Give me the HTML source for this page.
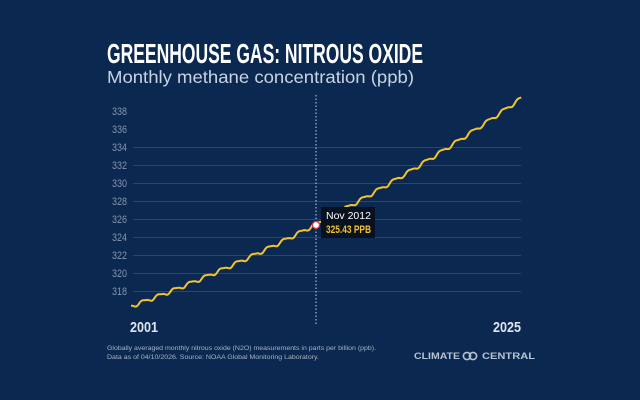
<!DOCTYPE html>
<html><head><meta charset="utf-8"><style>
html,body{margin:0;padding:0;background:#0b2850;}
svg{display:block}
</style></head><body>
<svg id="s" width="640" height="400" viewBox="0 0 640 400" xmlns="http://www.w3.org/2000/svg">
<rect width="640" height="400" fill="#0b2850"/>
<text x="107" y="63" fill="#ffffff" font-family="Liberation Sans, sans-serif" font-weight="bold" font-size="28" textLength="316" lengthAdjust="spacingAndGlyphs">GREENHOUSE GAS: NITROUS OXIDE</text>
<text x="107" y="83" fill="#c9d4e2" font-family="Liberation Sans, sans-serif" font-size="17.5" textLength="307" lengthAdjust="spacingAndGlyphs">Monthly methane concentration (ppb)</text>
<g id="grid" stroke="#264770" stroke-width="1"></g>
<g id="lab" fill="#8596ad" font-family="Liberation Sans, sans-serif" font-size="11"></g>
<line x1="316" y1="95" x2="316" y2="326" stroke="#c9d4e2" stroke-width="1" stroke-dasharray="1.5,2"/>
<path id="p" fill="none" stroke="#f2c230" stroke-width="2" stroke-linejoin="round"/>
<circle cx="316" cy="225" r="3.5" fill="#ffffff" stroke="#e23b3b" stroke-width="1.2"/>
<rect x="321" y="207" width="54" height="31" fill="#08111f"/>
<text x="326" y="219" fill="#ffffff" font-family="Liberation Sans, sans-serif" font-size="10.5">Nov 2012</text>
<text x="326" y="233" fill="#f2c230" font-family="Liberation Sans, sans-serif" font-weight="bold" font-size="11" textLength="45" lengthAdjust="spacingAndGlyphs">325.43 PPB</text>
<text x="130" y="332" fill="#dde4ee" font-family="Liberation Sans, sans-serif" font-weight="bold" font-size="15" textLength="28" lengthAdjust="spacingAndGlyphs">2001</text>
<text x="493" y="332" fill="#dde4ee" font-family="Liberation Sans, sans-serif" font-weight="bold" font-size="15" textLength="28" lengthAdjust="spacingAndGlyphs">2025</text>
<text x="107" y="350" fill="#a7b3c4" font-family="Liberation Sans, sans-serif" font-size="6.5" textLength="269" lengthAdjust="spacingAndGlyphs">Globally averaged monthly nitrous oxide (N2O) measurements in parts per billion (ppb).</text>
<text x="107" y="359" fill="#a7b3c4" font-family="Liberation Sans, sans-serif" font-size="6.5" textLength="212" lengthAdjust="spacingAndGlyphs">Data as of 04/10/2026. Source: NOAA Global Monitoring Laboratory.</text>
<text x="414" y="359" fill="#b7c2d2" font-family="Liberation Sans, sans-serif" font-weight="bold" font-size="9" textLength="46" lengthAdjust="spacingAndGlyphs">CLIMATE</text>
<circle cx="467" cy="356" r="3.6" fill="none" stroke="#b7c2d2" stroke-width="1.6"/>
<circle cx="473" cy="356" r="3.6" fill="none" stroke="#b7c2d2" stroke-width="1.6"/>
<text x="482" y="359" fill="#b7c2d2" font-family="Liberation Sans, sans-serif" font-weight="bold" font-size="9" textLength="53" lengthAdjust="spacingAndGlyphs">CENTRAL</text>
</svg>
<script>
var ns="http://www.w3.org/2000/svg";
var g=document.getElementById('grid'),l=document.getElementById('lab');
for(var v=318;v<=338;v+=2){var y=111+(338-v)*9;
 if(v<=334){var ln=document.createElementNS(ns,'line');ln.setAttribute('x1',133);ln.setAttribute('x2',521);ln.setAttribute('y1',y+0.5);ln.setAttribute('y2',y+0.5);g.appendChild(ln);}
 var t=document.createElementNS(ns,'text');t.setAttribute('x',112);t.setAttribute('y',y+4);t.setAttribute('textLength',15);t.setAttribute('lengthAdjust','spacingAndGlyphs');t.textContent=v;l.appendChild(t);}
var d='';
for(var i=0;i<=299;i++){var tt=i/12;
 var val=316.3+0.631*tt+0.0119*tt*tt+0.2*Math.sin(2*Math.PI*(tt-0.55))+0.06*Math.sin(4*Math.PI*tt);
 var x=131+tt*15.66,y=111+(338-val)*9;
 d+=(i?'L':'M')+x.toFixed(1)+','+y.toFixed(1);}
document.getElementById('p').setAttribute('d',d);
</script>
</body></html>
